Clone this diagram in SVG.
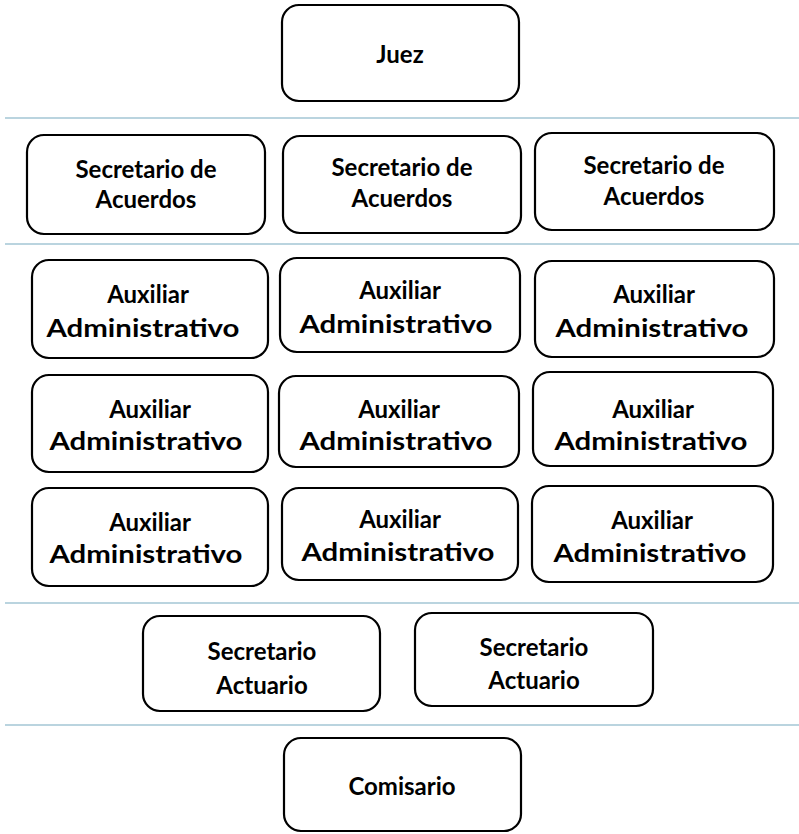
<svg xmlns="http://www.w3.org/2000/svg" width="799" height="834" viewBox="0 0 799 834">
<style>
.box{fill:#fff;stroke:#000;stroke-width:2.2}
.sep{stroke:#a3c6d4;stroke-width:1.6}
text{font-family:Lato,"Open Sans","Liberation Sans",sans-serif;font-weight:bold;font-size:24px;fill:#000;text-anchor:middle}
text.adm{font-size:25px}
</style>
<rect width="799" height="834" fill="#fff"/>
<g id="separators">
<line class="sep" x1="5" y1="118" x2="799" y2="118"/>
<line class="sep" x1="5" y1="244" x2="799" y2="244"/>
<line class="sep" x1="5" y1="603" x2="799" y2="603"/>
<line class="sep" x1="5" y1="725" x2="799" y2="725"/>
</g>
<g id="juez"><rect class="box" x="282" y="5" width="237" height="96" rx="17"/><text x="400" y="63">Juez</text></g>
<g id="sec1"><rect class="box" x="27" y="135" width="238" height="99" rx="17"/><text x="146" y="178">Secretario de</text><text x="146" y="208">Acuerdos</text></g>
<g id="sec2"><rect class="box" x="283" y="136" width="238" height="97" rx="17"/><text x="402" y="176">Secretario de</text><text x="402" y="207">Acuerdos</text></g>
<g id="sec3"><rect class="box" x="535" y="133" width="239" height="97" rx="17"/><text x="654" y="174">Secretario de</text><text x="654" y="205">Acuerdos</text></g>
<g id="aux11"><rect class="box" x="32" y="260" width="236" height="98" rx="17"/><text x="148" y="303">Auxiliar</text><text class="adm" x="143" y="337" textLength="193" lengthAdjust="spacingAndGlyphs">Administrativo</text></g>
<g id="aux12"><rect class="box" x="280" y="258" width="240" height="94" rx="17"/><text x="400" y="299">Auxiliar</text><text class="adm" x="396" y="333" textLength="193" lengthAdjust="spacingAndGlyphs">Administrativo</text></g>
<g id="aux13"><rect class="box" x="535" y="261" width="239" height="96" rx="17"/><text x="654" y="303">Auxiliar</text><text class="adm" x="652" y="337" textLength="193" lengthAdjust="spacingAndGlyphs">Administrativo</text></g>
<g id="aux21"><rect class="box" x="32" y="375" width="236" height="97" rx="17"/><text x="150" y="418">Auxiliar</text><text class="adm" x="146" y="450" textLength="193" lengthAdjust="spacingAndGlyphs">Administrativo</text></g>
<g id="aux22"><rect class="box" x="279" y="376" width="240" height="91" rx="17"/><text x="399" y="418">Auxiliar</text><text class="adm" x="396" y="450" textLength="193" lengthAdjust="spacingAndGlyphs">Administrativo</text></g>
<g id="aux23"><rect class="box" x="533" y="372" width="240" height="94" rx="17"/><text x="653" y="418">Auxiliar</text><text class="adm" x="651" y="450" textLength="193" lengthAdjust="spacingAndGlyphs">Administrativo</text></g>
<g id="aux31"><rect class="box" x="32" y="488" width="236" height="98" rx="17"/><text x="150" y="531">Auxiliar</text><text class="adm" x="146" y="563" textLength="193" lengthAdjust="spacingAndGlyphs">Administrativo</text></g>
<g id="aux32"><rect class="box" x="282" y="488" width="236" height="92" rx="17"/><text x="400" y="528">Auxiliar</text><text class="adm" x="398" y="561" textLength="193" lengthAdjust="spacingAndGlyphs">Administrativo</text></g>
<g id="aux33"><rect class="box" x="532" y="486" width="241" height="96" rx="17"/><text x="652" y="529">Auxiliar</text><text class="adm" x="650" y="562" textLength="193" lengthAdjust="spacingAndGlyphs">Administrativo</text></g>
<g id="act1"><rect class="box" x="143" y="616" width="237" height="95" rx="17"/><text x="262" y="660">Secretario</text><text x="262" y="694">Actuario</text></g>
<g id="act2"><rect class="box" x="415" y="613" width="238" height="93" rx="17"/><text x="534" y="656">Secretario</text><text x="534" y="689">Actuario</text></g>
<g id="comisario"><rect class="box" x="284" y="738" width="237" height="93" rx="17"/><text x="402" y="795">Comisario</text></g>
</svg>
